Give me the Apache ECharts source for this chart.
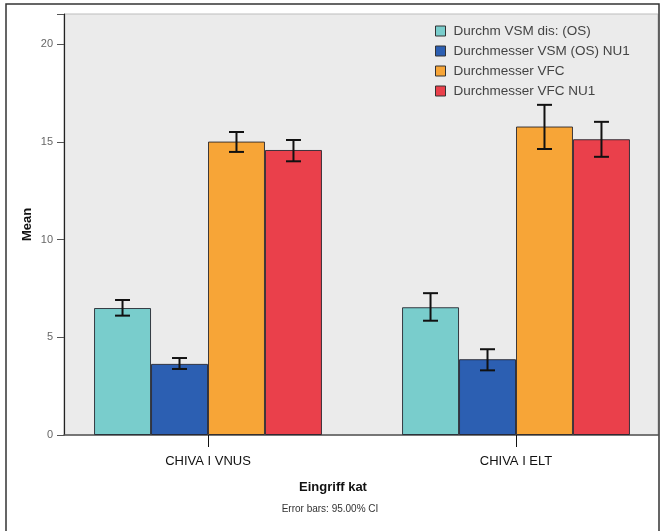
<!DOCTYPE html>
<html><head><meta charset="utf-8">
<script src="https://cdn.jsdelivr.net/npm/echarts@6/dist/echarts.min.js"></script>
<style>html,body{margin:0;padding:0;background:#fff;overflow:hidden}#c{width:690px;height:531px}</style>
</head><body><div id="c"></div>
<script>
const categories = ['CHIVA I VNUS', 'CHIVA I ELT'];
const seriesNames = ['Durchm VSM dis: (OS)', 'Durchmesser VSM (OS) NU1', 'Durchmesser VFC', 'Durchmesser VFC NU1'];
const colors = ['#79CDCC', '#2C5FB2', '#F7A537', '#EA404B'];
const meanVSM = [6.50, 6.54];
const meanVSM_NU1 = [3.64, 3.88];
const meanVFC = [15.02, 15.79];
const meanVFC_NU1 = [14.59, 15.14];
const lowVSM = [6.11, 5.85], highVSM = [6.91, 7.26];
const lowVSM_NU1 = [3.38, 3.31], highVSM_NU1 = [3.94, 4.39];
const lowVFC = [14.49, 14.64], highVFC = [15.51, 16.90];
const lowVFC_NU1 = [14.01, 14.24], highVFC_NU1 = [15.10, 16.03];
const yTicks = [0, 5, 10, 15, 20];

const means = [meanVSM, meanVSM_NU1, meanVFC, meanVFC_NU1];
const lows = [lowVSM, lowVSM_NU1, lowVFC, lowVFC_NU1];
const highs = [highVSM, highVSM_NU1, highVFC, highVFC_NU1];
const YMAX = 21.55;
const GAP = 0.26;

const chart = echarts.init(document.getElementById('c'));
const series = [];
means.forEach((m, i) => {
  series.push({
    name: seriesNames[i], type: 'bar', xAxisIndex: 1, yAxisIndex: 1,
    data: m, barGap: '0%', barCategoryGap: (GAP * 100) + '%',
    itemStyle: { color: colors[i], borderColor: 'rgba(30,30,40,0.85)', borderWidth: 1 },
    emphasis: { disabled: true }, z: 2
  });
});
lows.forEach((lo, i) => {
  series.push({
    type: 'custom', xAxisIndex: 1, yAxisIndex: 1, z: 5,
    data: lo.map((v, k) => [k, v, highs[i][k]]),
    encode: { x: 0, y: [1, 2] },
    renderItem: function (params, api) {
      const band = api.size([1, 0])[0];
      const bw = band * (1 - GAP) / 4;
      const c0 = api.coord([api.value(0), api.value(1)]);
      const c1 = api.coord([api.value(0), api.value(2)]);
      const x = c0[0] - 2 * bw + bw * (i + 0.5);
      const hw = 7.5;
      const st = { stroke: '#111', lineWidth: 2 };
      return { type: 'group', children: [
        { type: 'line', shape: { x1: x, y1: c0[1], x2: x, y2: c1[1] }, style: st },
        { type: 'line', shape: { x1: x - hw, y1: c0[1], x2: x + hw, y2: c0[1] }, style: st },
        { type: 'line', shape: { x1: x - hw, y1: c1[1], x2: x + hw, y2: c1[1] }, style: st }
      ]};
    }
  });
});

chart.setOption({
  animation: false,
  backgroundColor: '#fff',
  grid: [
    { left: 64, top: 14, width: 594, height: 421, show: true, backgroundColor: '#EBEBEB', borderColor: '#bdbdbd', borderWidth: 1 },
    { left: 54, top: 14, width: 616, height: 421 }
  ],
  xAxis: [
    { type: 'value', gridIndex: 0, min: 0, max: 1, axisLine: { show: true, onZero: false, lineStyle: { color: '#555', width: 1.5 } }, axisTick: { show: false }, axisLabel: { show: false }, splitLine: { show: false } },
    { type: 'category', gridIndex: 1, data: categories, axisLine: { show: false }, axisTick: { show: true, alignWithLabel: true, length: 12, lineStyle: { color: '#111' } },
      axisLabel: { color: '#111', fontSize: 13, fontFamily: 'Liberation Sans, Arial, sans-serif', margin: 20 } }
  ],
  yAxis: [
    { type: 'value', gridIndex: 0, min: 0, max: YMAX, interval: 5,
      axisLine: { show: true, lineStyle: { color: '#222', width: 1.2 } },
      axisTick: { show: true, length: 7, lineStyle: { color: '#555' } },
      axisLabel: { color: '#666', fontSize: 11, fontFamily: 'Liberation Sans, Arial, sans-serif', margin: 11,
        formatter: v => yTicks.includes(v) ? String(v) : '' },
      splitLine: { show: false },
      name: 'Mean', nameLocation: 'middle', nameGap: 30, nameRotate: 90, nameMoveOverlap: false,
      nameTextStyle: { fontWeight: 'bold', fontSize: 13, color: '#111', fontFamily: 'Liberation Sans, Arial, sans-serif' } },
    { type: 'value', gridIndex: 1, min: 0, max: YMAX, show: false }
  ],
  legend: {
    data: seriesNames, orient: 'vertical', left: 430, top: 19, itemWidth: 10, itemHeight: 10, itemGap: 6,
    icon: 'rect', selectedMode: false,
    itemStyle: { borderColor: '#333', borderWidth: 1 },
    textStyle: { color: '#444', fontSize: 13.5, fontFamily: 'Liberation Sans, Arial, sans-serif', padding: [0, 0, 0, 3] }
  },
  graphic: [
    { type: 'rect', shape: { x: 6, y: 4, width: 653, height: 540 }, style: { fill: 'none', stroke: '#333', lineWidth: 1.5 }, silent: true, z: 100 },
    { type: 'text', x: 333, y: 487, style: { text: 'Eingriff kat', fontSize: 13, fontWeight: 'bold', fill: '#111', align: 'center', verticalAlign: 'middle', fontFamily: 'Liberation Sans, Arial, sans-serif' } },
    { type: 'text', x: 330, y: 509, style: { text: 'Error bars: 95.00% CI', fontSize: 10, fill: '#333', align: 'center', verticalAlign: 'middle', fontFamily: 'Liberation Sans, Arial, sans-serif' } }
  ],
  series: series
});
</script></body></html>
